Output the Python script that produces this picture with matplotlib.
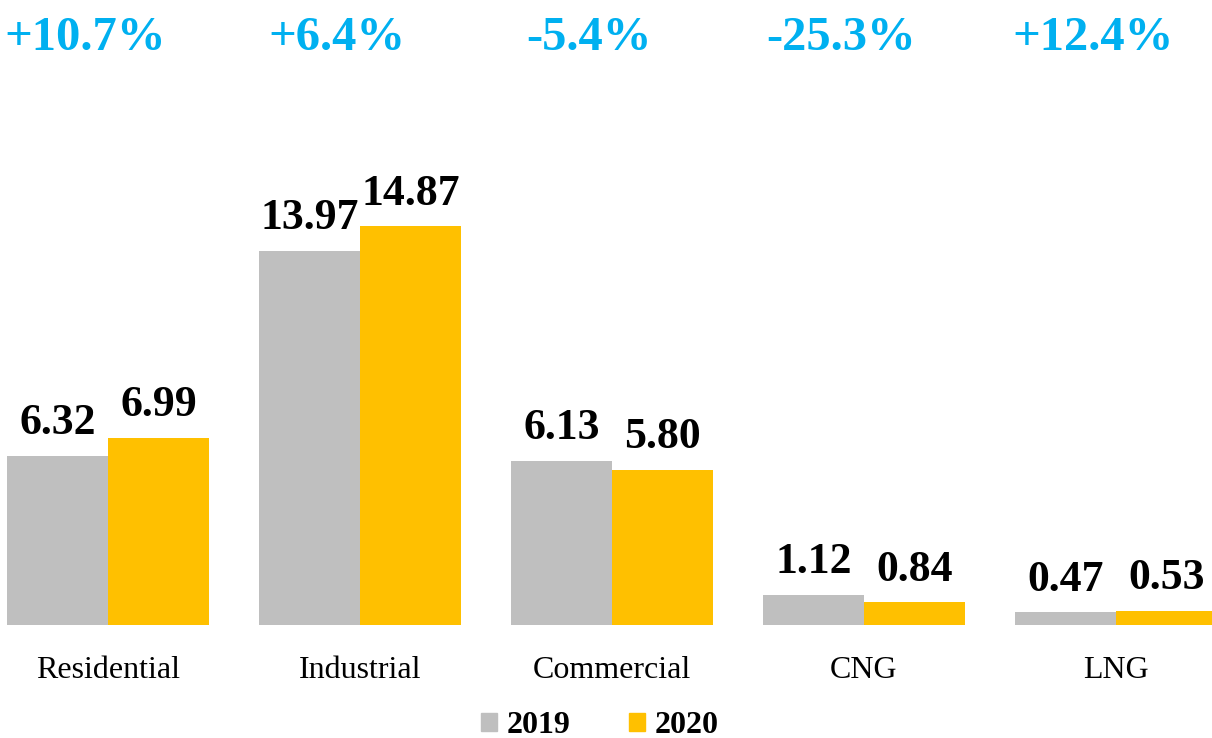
import numpy as np
import matplotlib
matplotlib.use('Agg')
import matplotlib.pyplot as plt
from matplotlib.patches import Patch

plt.rcParams['font.family'] = ['Liberation Serif', 'DejaVu Serif']

categories = ['Residential', 'Industrial', 'Commercial', 'CNG', 'LNG']
values_2019 = [6.32, 13.97, 6.13, 1.12, 0.47]
values_2020 = [6.99, 14.87, 5.80, 0.84, 0.53]
changes = ['+10.7%', '+6.4%', '-5.4%', '-25.3%', '+12.4%']

gray = '#BFBFBF'
gold = '#FFC000'
cyan = '#00B0F0'

fig = plt.figure(figsize=(12.12, 7.38), dpi=100)
ax = fig.add_axes([0, 113 / 738, 1, 625 / 738])

x = np.arange(len(categories))
w = 0.40
b1 = ax.bar(x - w / 2, values_2019, w, color=gray, label='2019')
b2 = ax.bar(x + w / 2, values_2020, w, color=gold, label='2020')

# value labels above each bar
for bars, vals in ((b1, values_2019), (b2, values_2020)):
    for bar, v in zip(bars, vals):
        ax.annotate(f'{v:.2f}', (bar.get_x() + bar.get_width() / 2, v),
                    xytext=(0, 9), textcoords='offset points',
                    ha='center', va='bottom', fontsize=31.5, fontweight='bold')

# year-on-year change on top
for i, c in enumerate(changes):
    ax.text(i - 0.09, 0.94, c, transform=ax.get_xaxis_transform(),
            ha='center', va='center', fontsize=35, fontweight='bold', color=cyan)

ax.set_xlim(-108 / 252, (1212 - 108) / 252)
ax.set_ylim(0, 625 / 26.8)
ax.set_xticks(x)
ax.set_xticklabels(categories, fontsize=23)
ax.tick_params(axis='x', length=0, pad=22)
ax.set_yticks([])
for s in ax.spines.values():
    s.set_visible(False)

handles = [Patch(color=gray), Patch(color=gold)]
fig.legend(handles, ['2019', '2020'], loc='center', bbox_to_anchor=(0.495, 0.017),
           ncol=2, frameon=False, handlelength=0.5, handleheight=0.5, handletextpad=0.3,
           columnspacing=1.85, borderpad=0, prop={'size': 23, 'weight': 'bold'})

fig.savefig('out.png', dpi=100)
